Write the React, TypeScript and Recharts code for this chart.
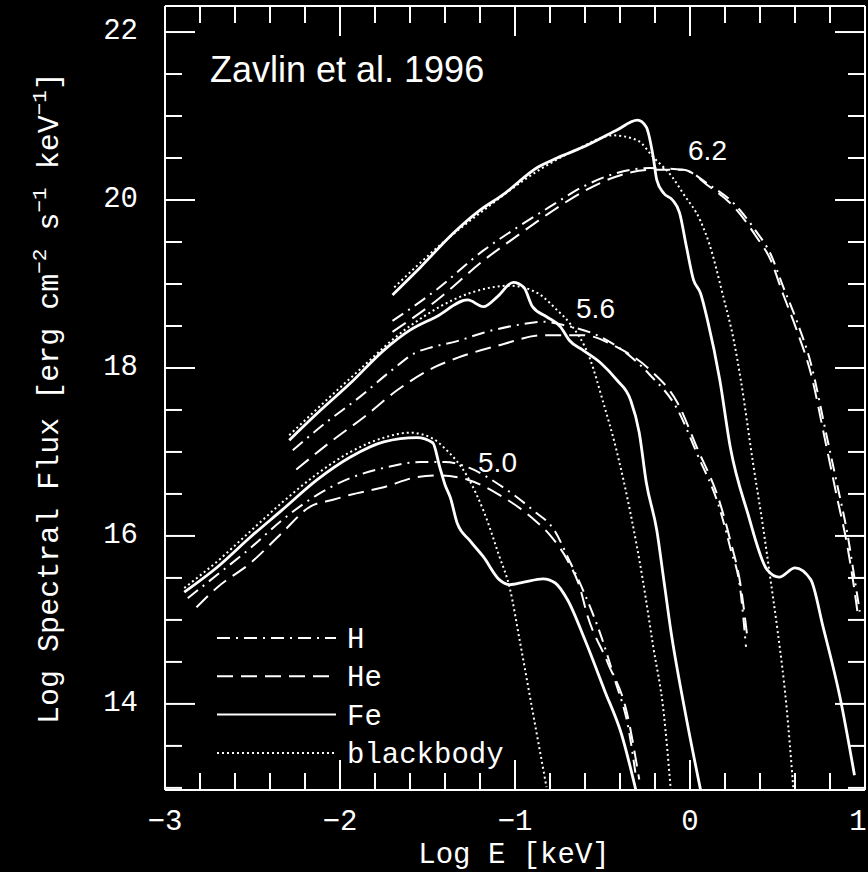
import { LineChart, Line, XAxis, YAxis, ReferenceDot, Customized } from "recharts"

type Pair = [number, number]

// axis ticks: minor every 0.2 (x) / 0.5 (y), labelled ones listed separately
const xTicks = [-3, -2.8, -2.6, -2.4, -2.2, -2, -1.8, -1.6, -1.4, -1.2, -1, -0.8, -0.6, -0.4, -0.2, 0, 0.2, 0.4, 0.6, 0.8, 1]
const xLabelled = [-3, -2, -1, 0, 1]
const yTicks = [13, 13.5, 14, 14.5, 15, 15.5, 16, 16.5, 17, 17.5, 18, 18.5, 19, 19.5, 20, 20.5, 21, 21.5, 22]
const yLabelled = [14, 16, 18, 20, 22]

// log T = 5.0
const h50: Pair[] = [[-2.87, 15.26], [-2.7, 15.54], [-2.51, 15.86], [-2.33, 16.19], [-2.13, 16.49], [-1.94, 16.69], [-1.75, 16.81], [-1.54, 16.88], [-1.4, 16.88], [-1.26, 16.81], [-1.09, 16.61], [-0.9, 16.31], [-0.77, 16.05], [-0.69, 15.71], [-0.6, 15.3], [-0.51, 14.82], [-0.43, 14.29], [-0.35, 13.69], [-0.31, 13.15]]
const he50: Pair[] = [[-2.82, 15.15], [-2.7, 15.39], [-2.51, 15.68], [-2.33, 16.04], [-2.17, 16.35], [-2.04, 16.43], [-1.94, 16.49], [-1.75, 16.58], [-1.56, 16.7], [-1.43, 16.72], [-1.27, 16.67], [-1.09, 16.49], [-0.9, 16.21], [-0.8, 16.01], [-0.7, 15.71], [-0.63, 15.39], [-0.59, 15.08], [-0.47, 14.49], [-0.36, 13.89], [-0.29, 13.1]]
const fe50: Pair[] = [[-2.89, 15.33], [-2.7, 15.63], [-2.51, 15.99], [-2.33, 16.31], [-2.13, 16.67], [-1.94, 16.94], [-1.75, 17.12], [-1.56, 17.17], [-1.47, 17.11], [-1.43, 16.82], [-1.4, 16.61], [-1.37, 16.46], [-1.33, 16.15], [-1.26, 15.95], [-1.18, 15.75], [-1.09, 15.48], [-1.03, 15.42], [-0.95, 15.45], [-0.84, 15.49], [-0.77, 15.44], [-0.7, 15.24], [-0.6, 14.76], [-0.49, 14.17], [-0.39, 13.63], [-0.31, 12.98]]
const bb50: Pair[] = [[-2.89, 15.38], [-2.7, 15.7], [-2.51, 16.06], [-2.33, 16.4], [-2.13, 16.74], [-1.94, 17.0], [-1.75, 17.17], [-1.6, 17.23], [-1.47, 17.16], [-1.4, 17.04], [-1.27, 16.7], [-1.18, 16.3], [-1.09, 15.76], [-1.03, 15.38], [-0.97, 14.72], [-0.9, 13.92], [-0.82, 13.01]]

// log T = 5.6
const h56: Pair[] = [[-2.27, 17.02], [-2.08, 17.35], [-1.89, 17.65], [-1.7, 17.98], [-1.57, 18.18], [-1.47, 18.25], [-1.33, 18.32], [-1.18, 18.42], [-0.99, 18.51], [-0.84, 18.55], [-0.7, 18.5], [-0.51, 18.37], [-0.33, 18.12], [-0.23, 17.92], [-0.07, 17.5], [0.04, 16.98], [0.17, 16.32], [0.23, 15.86], [0.29, 15.32], [0.32, 14.68]]
const he56: Pair[] = [[-2.25, 16.79], [-2.06, 17.11], [-1.86, 17.42], [-1.67, 17.74], [-1.46, 18.01], [-1.33, 18.12], [-1.09, 18.27], [-0.84, 18.39], [-0.61, 18.39], [-0.42, 18.25], [-0.23, 17.98], [-0.07, 17.58], [0.04, 17.05], [0.17, 16.4], [0.23, 15.95], [0.29, 15.4], [0.33, 14.75]]
const fe56: Pair[] = [[-2.29, 17.14], [-2.13, 17.46], [-1.94, 17.82], [-1.75, 18.21], [-1.6, 18.45], [-1.45, 18.61], [-1.27, 18.81], [-1.18, 18.73], [-1.1, 18.85], [-1.01, 19.02], [-0.95, 18.96], [-0.9, 18.73], [-0.82, 18.61], [-0.74, 18.49], [-0.69, 18.33], [-0.61, 18.21], [-0.51, 18.06], [-0.42, 17.86], [-0.34, 17.62], [-0.29, 17.23], [-0.25, 16.64], [-0.19, 16.07], [-0.15, 15.48], [-0.11, 14.88], [-0.03, 13.93], [0.06, 12.98]]
const bb56: Pair[] = [[-2.29, 17.2], [-1.94, 17.88], [-1.6, 18.5], [-1.26, 18.89], [-1.03, 18.98], [-0.87, 18.89], [-0.76, 18.69], [-0.69, 18.54], [-0.57, 18.1], [-0.5, 17.62], [-0.42, 17.02], [-0.34, 16.27], [-0.27, 15.48], [-0.21, 14.68], [-0.15, 13.89], [-0.11, 12.98]]

// log T = 6.2
const h62: Pair[] = [[-1.7, 18.56], [-1.45, 18.93], [-1.18, 19.4], [-0.99, 19.67], [-0.8, 19.92], [-0.61, 20.16], [-0.42, 20.32], [-0.23, 20.38], [-0.04, 20.36], [0.11, 20.18], [0.25, 19.96], [0.38, 19.62], [0.46, 19.36], [0.53, 18.98], [0.61, 18.56], [0.69, 18.06], [0.78, 17.2], [0.84, 16.62], [0.9, 16.02], [0.94, 15.5], [0.97, 15.1]]
const he62: Pair[] = [[-1.7, 18.43], [-1.45, 18.8], [-1.18, 19.28], [-0.99, 19.57], [-0.8, 19.85], [-0.61, 20.1], [-0.42, 20.28], [-0.23, 20.36], [-0.04, 20.36], [0.11, 20.16], [0.25, 19.92], [0.38, 19.56], [0.46, 19.29], [0.53, 18.89], [0.61, 18.45], [0.69, 17.94], [0.78, 17.06], [0.84, 16.46], [0.9, 15.87], [0.94, 15.35], [0.96, 15.05]]
const fe62: Pair[] = [[-1.7, 18.87], [-1.54, 19.2], [-1.35, 19.61], [-1.2, 19.88], [-1.07, 20.06], [-0.87, 20.39], [-0.76, 20.5], [-0.61, 20.63], [-0.42, 20.83], [-0.3, 20.95], [-0.25, 20.87], [-0.21, 20.51], [-0.19, 20.24], [-0.15, 20.08], [-0.1, 20.0], [-0.06, 19.85], [-0.02, 19.44], [0.02, 19.05], [0.06, 18.89], [0.1, 18.57], [0.17, 17.86], [0.23, 17.06], [0.33, 16.27], [0.44, 15.6], [0.51, 15.51], [0.6, 15.62], [0.69, 15.48], [0.76, 14.92], [0.86, 14.05], [0.94, 13.15]]
const bb62: Pair[] = [[-1.69, 18.96], [-1.43, 19.46], [-1.14, 19.94], [-0.86, 20.36], [-0.63, 20.62], [-0.44, 20.77], [-0.3, 20.71], [-0.21, 20.51], [-0.1, 20.27], [-0.04, 20.08], [0.06, 19.75], [0.11, 19.48], [0.19, 18.85], [0.25, 18.33], [0.29, 17.86], [0.36, 16.87], [0.42, 16.07], [0.46, 15.48], [0.5, 14.88], [0.55, 14.0], [0.59, 13.01]]

const curves = [
  { id: "h50", kind: "H", pts: h50 }, { id: "he50", kind: "He", pts: he50 }, { id: "fe50", kind: "Fe", pts: fe50 }, { id: "bb50", kind: "bb", pts: bb50 },
  { id: "h56", kind: "H", pts: h56 }, { id: "he56", kind: "He", pts: he56 }, { id: "fe56", kind: "Fe", pts: fe56 }, { id: "bb56", kind: "bb", pts: bb56 },
  { id: "h62", kind: "H", pts: h62 }, { id: "he62", kind: "He", pts: he62 }, { id: "fe62", kind: "Fe", pts: fe62 }, { id: "bb62", kind: "bb", pts: bb62 },
]

const tempLabels = [
  { text: "5.0", x: -1.1, y: 16.88 },
  { text: "5.6", x: -0.54, y: 18.71 },
  { text: "6.2", x: 0.1, y: 20.6 },
]

const legendItems = [
  { kind: "H", label: "H" },
  { kind: "He", label: "He" },
  { kind: "Fe", label: "Fe" },
  { kind: "bb", label: "blackbody" },
]

const lineStyle: Record<string, { dash?: string, w: number }> = {
  H: { dash: "13 6 2 6", w: 2 },
  He: { dash: "16 8", w: 2 },
  Fe: { w: 2.8 },
  bb: { dash: "2 3", w: 2 },
}

const MONO = "'Liberation Mono', 'DejaVu Sans Mono', monospace"
const SANS = "'Liberation Sans', Arial, sans-serif"
const WHITE = "#fff"

const isIn = (list: number[], v: number) => list.some(t => Math.abs(t - v) < 1e-6)
const fmt = (v: number) => (v < 0 ? "\u2212" + Math.abs(v) : String(v))

const LeftTick = ({ x, y, payload }: any) => {
  const major = isIn(yLabelled, payload.value)
  return (
    <g>
      <line x1={x} x2={x + (major ? 30 : 17)} y1={y} y2={y} stroke={WHITE} strokeWidth={2} />
      {major && <text x={x - 27} y={y + 7} textAnchor="end" fill={WHITE} fontSize={29} fontFamily={MONO}>{fmt(payload.value)}</text>}
    </g>
  )
}
const RightTick = ({ x, y, payload }: any) => {
  const major = isIn(yLabelled, payload.value)
  return <line x1={x} x2={x - (major ? 30 : 17)} y1={y} y2={y} stroke={WHITE} strokeWidth={2} />
}
const BottomTick = ({ x, y, payload }: any) => {
  const major = isIn(xLabelled, payload.value)
  // keep the last label inside the picture
  const lx = Math.min(x, 858)
  return (
    <g>
      <line x1={x} x2={x} y1={y} y2={y - (major ? 30 : 17)} stroke={WHITE} strokeWidth={2} />
      {major && <text x={lx} y={y + 40} textAnchor="middle" fill={WHITE} fontSize={29} fontFamily={MONO}>{fmt(payload.value)}</text>}
    </g>
  )
}
const TopTick = ({ x, y, payload }: any) => {
  const major = isIn(xLabelled, payload.value)
  return <line x1={x} x2={x} y1={y} y2={y + (major ? 30 : 17)} stroke={WHITE} strokeWidth={2} />
}

const Overlay = () => (
  <g>
    <text x={210} y={82} fill={WHITE} fontSize={36} fontFamily={SANS}>Zavlin et al. 1996</text>
    {legendItems.map((it, i) => {
      const ly = 638 + i * 38.3
      return (
        <g key={it.kind}>
          <line x1={217} x2={336} y1={ly} y2={ly} stroke={WHITE} strokeWidth={2} strokeDasharray={lineStyle[it.kind].dash} />
          <text x={347} y={ly + 10} fill={WHITE} fontSize={29} fontFamily={MONO}>{it.label}</text>
        </g>
      )
    })}
    <text x={514} y={863} textAnchor="middle" fill={WHITE} fontSize={29} fontFamily={MONO}>Log E [keV]</text>
    <text x={58} y={398} transform="rotate(-90, 58, 398)" textAnchor="middle" fill={WHITE} fontSize={30} fontFamily={MONO}>
      Log Spectral Flux [erg cm<tspan dy={-12} fontSize={21}>{"\u22122"}</tspan>
      <tspan dy={12}> s</tspan><tspan dy={-12} fontSize={21}>{"\u22121"}</tspan>
      <tspan dy={12}> keV</tspan><tspan dy={-12} fontSize={21}>{"\u22121"}</tspan>
      <tspan dy={12}>]</tspan>
    </text>
  </g>
)

export default function App() {
  return (
    <div style={{ width: 868, height: 872, background: "#000" }}>
      <style>{"body{margin:0;background:#000}"}</style>
      <LineChart width={868} height={872} margin={{ top: 0, right: 0, bottom: 0, left: 0 }}>
        <XAxis xAxisId="b" type="number" dataKey="x" domain={[-3, 1]} allowDataOverflow ticks={xTicks} interval={0}
          height={82} tickSize={0} tickMargin={0} tickLine={false} axisLine={{ stroke: WHITE, strokeWidth: 2 }} tick={<BottomTick />} />
        <XAxis xAxisId="t" orientation="top" type="number" dataKey="x" domain={[-3, 1]} allowDataOverflow ticks={xTicks} interval={0}
          height={6} tickSize={0} tickMargin={0} tickLine={false} axisLine={{ stroke: WHITE, strokeWidth: 2 }} tick={<TopTick />} />
        <YAxis yAxisId="l" type="number" domain={[12.975, 22.31]} allowDataOverflow ticks={yTicks} interval={0}
          width={165} tickSize={0} tickMargin={0} tickLine={false} axisLine={{ stroke: WHITE, strokeWidth: 2 }} tick={<LeftTick />} />
        <YAxis yAxisId="r" orientation="right" type="number" domain={[12.975, 22.31]} allowDataOverflow ticks={yTicks} interval={0}
          width={3} tickSize={0} tickMargin={0} tickLine={false} axisLine={{ stroke: WHITE, strokeWidth: 2 }} tick={<RightTick />} />
        {curves.map(c => (
          <Line key={c.id} xAxisId="b" yAxisId="l" data={c.pts.map(([x, y]) => ({ x, y }))} dataKey="y" type="monotone"
            stroke={WHITE} strokeWidth={lineStyle[c.kind].w} strokeDasharray={lineStyle[c.kind].dash}
            dot={false} activeDot={false} isAnimationActive={false} />
        ))}
        {tempLabels.map(t => (
          <ReferenceDot key={t.text} xAxisId="b" yAxisId="l" x={t.x} y={t.y} r={1} fill="none" stroke="none"
            label={{ value: t.text, position: "center", fill: WHITE, fontSize: 28, fontFamily: SANS }} />
        ))}
        <Customized component={Overlay} />
      </LineChart>
    </div>
  )
}
